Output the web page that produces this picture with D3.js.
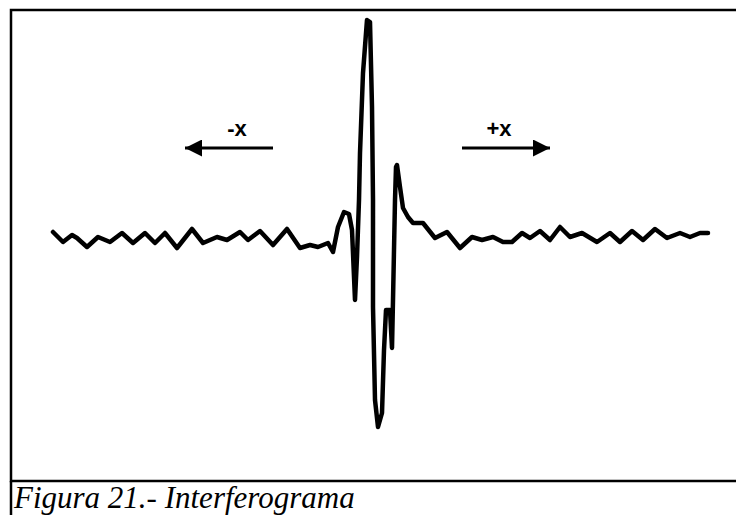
<!DOCTYPE html>
<html>
<head>
<meta charset="utf-8">
<script src="https://cdn.jsdelivr.net/npm/d3@7"></script>
<style>
  body { margin: 0; background: #fff; }
  svg { display: block; }
</style>
</head>
<body>
<div id="chart"></div>
<script>
// interferogram trace
// opd = optical path difference (0 = centre burst), signal = detector output
const opd = [-314,-304,-295,-290,-280,-269,-257,-245,-234,-222,-212,-202,-190,-175,-164,-150,-140,-127,-119,-107,-94,-80,-67,-57,-49,-39,-34,-29,-23,-18,-15,-12,-10,-8,-7,-4,0,3,5,6,6,8,11,15,17,19,23,25,26,28,29,30,33,36,41,46,56,68,80,93,105,115,126,136,145,155,163,173,183,193,203,215,230,243,253,265,276,288,300,313,323,333,341];
const signal = [6,-4,3,0,-9,1,-4,5,-5,5,-5,5,-10,9,-5,1,-2,6,-2,7,-7,9,-10,-7,-9,-5,-14,11,26,24,8,-62,-19,38,85,165,218,216,131,38,-69,-162,-189,-175,-112,-72,-72,-110,-62,38,71,73,51,30,21,15,15,0,6,-10,1,-2,1,-4,-4,5,0,7,-2,11,1,5,-4,5,-4,7,-2,9,0,5,1,5,5];

// direction labels
const dirLabels = ["-x", "+x"];

const W = 736, H = 515;
const svg = d3.select("#chart").append("svg")
    .attr("width", W)
    .attr("height", H);

// frame of the figure + caption cell
svg.append("rect")
    .attr("x", 11).attr("y", 10)
    .attr("width", 740).attr("height", 471)
    .attr("fill", "none")
    .attr("stroke", "#000")
    .attr("stroke-width", 2.5);
svg.append("line")
    .attr("x1", 11).attr("x2", 11)
    .attr("y1", 481).attr("y2", H)
    .attr("stroke", "#000")
    .attr("stroke-width", 2.5);

var x = d3.scaleLinear()
    .domain([d3.min(opd), d3.max(opd)])
    .range([53, 708]);

var y = d3.scaleLinear()
    .domain([-200, 220])
    .range([438, 18]);

const line = d3.line()
    .x(d => x(d[0]))
    .y(d => y(d[1]))
    .curve(d3.curveLinear);

svg.append("path")
    .datum(d3.zip(opd, signal))
    .attr("d", line)
    .attr("fill", "none")
    .attr("stroke", "#000")
    .attr("stroke-width", 4.5)
    .attr("stroke-linejoin", "round")
    .attr("stroke-linecap", "round");

// arrows
const defs = svg.append("defs");
defs.append("marker")
    .attr("id", "head")
    .attr("viewBox", "0 0 10 10")
    .attr("refX", 10).attr("refY", 5)
    .attr("markerUnits", "userSpaceOnUse")
    .attr("markerWidth", 22).attr("markerHeight", 17)
    .attr("orient", "auto")
  .append("path")
    .attr("d", "M0,0 L10,5 L0,10 Z")
    .attr("fill", "#000");

const arrows = [
  {label: dirLabels[0], from: 273, to: 185, tx: 237},
  {label: dirLabels[1], from: 462, to: 550, tx: 499}
];

const g = svg.selectAll(".dir")
    .data(arrows)
  .enter().append("g")
    .attr("class", "dir");

g.append("line")
    .attr("x1", d => d.from).attr("x2", d => d.to)
    .attr("y1", 148).attr("y2", 148)
    .attr("stroke", "#000")
    .attr("stroke-width", 3)
    .attr("marker-end", "url(#head)");

g.append("text")
    .attr("x", d => d.tx)
    .attr("y", 136)
    .attr("text-anchor", "middle")
    .style("font-family", "'Liberation Sans', Arial, sans-serif")
    .style("font-weight", "bold")
    .style("font-size", "22px")
    .text(d => d.label);

// caption
svg.append("text")
    .attr("x", 14)
    .attr("y", 508)
    .style("font-family", "'Liberation Serif', 'Times New Roman', Times, serif")
    .style("font-style", "italic")
    .style("font-size", "31px")
    .text("Figura 21.- Interferograma");
</script>
</body>
</html>
